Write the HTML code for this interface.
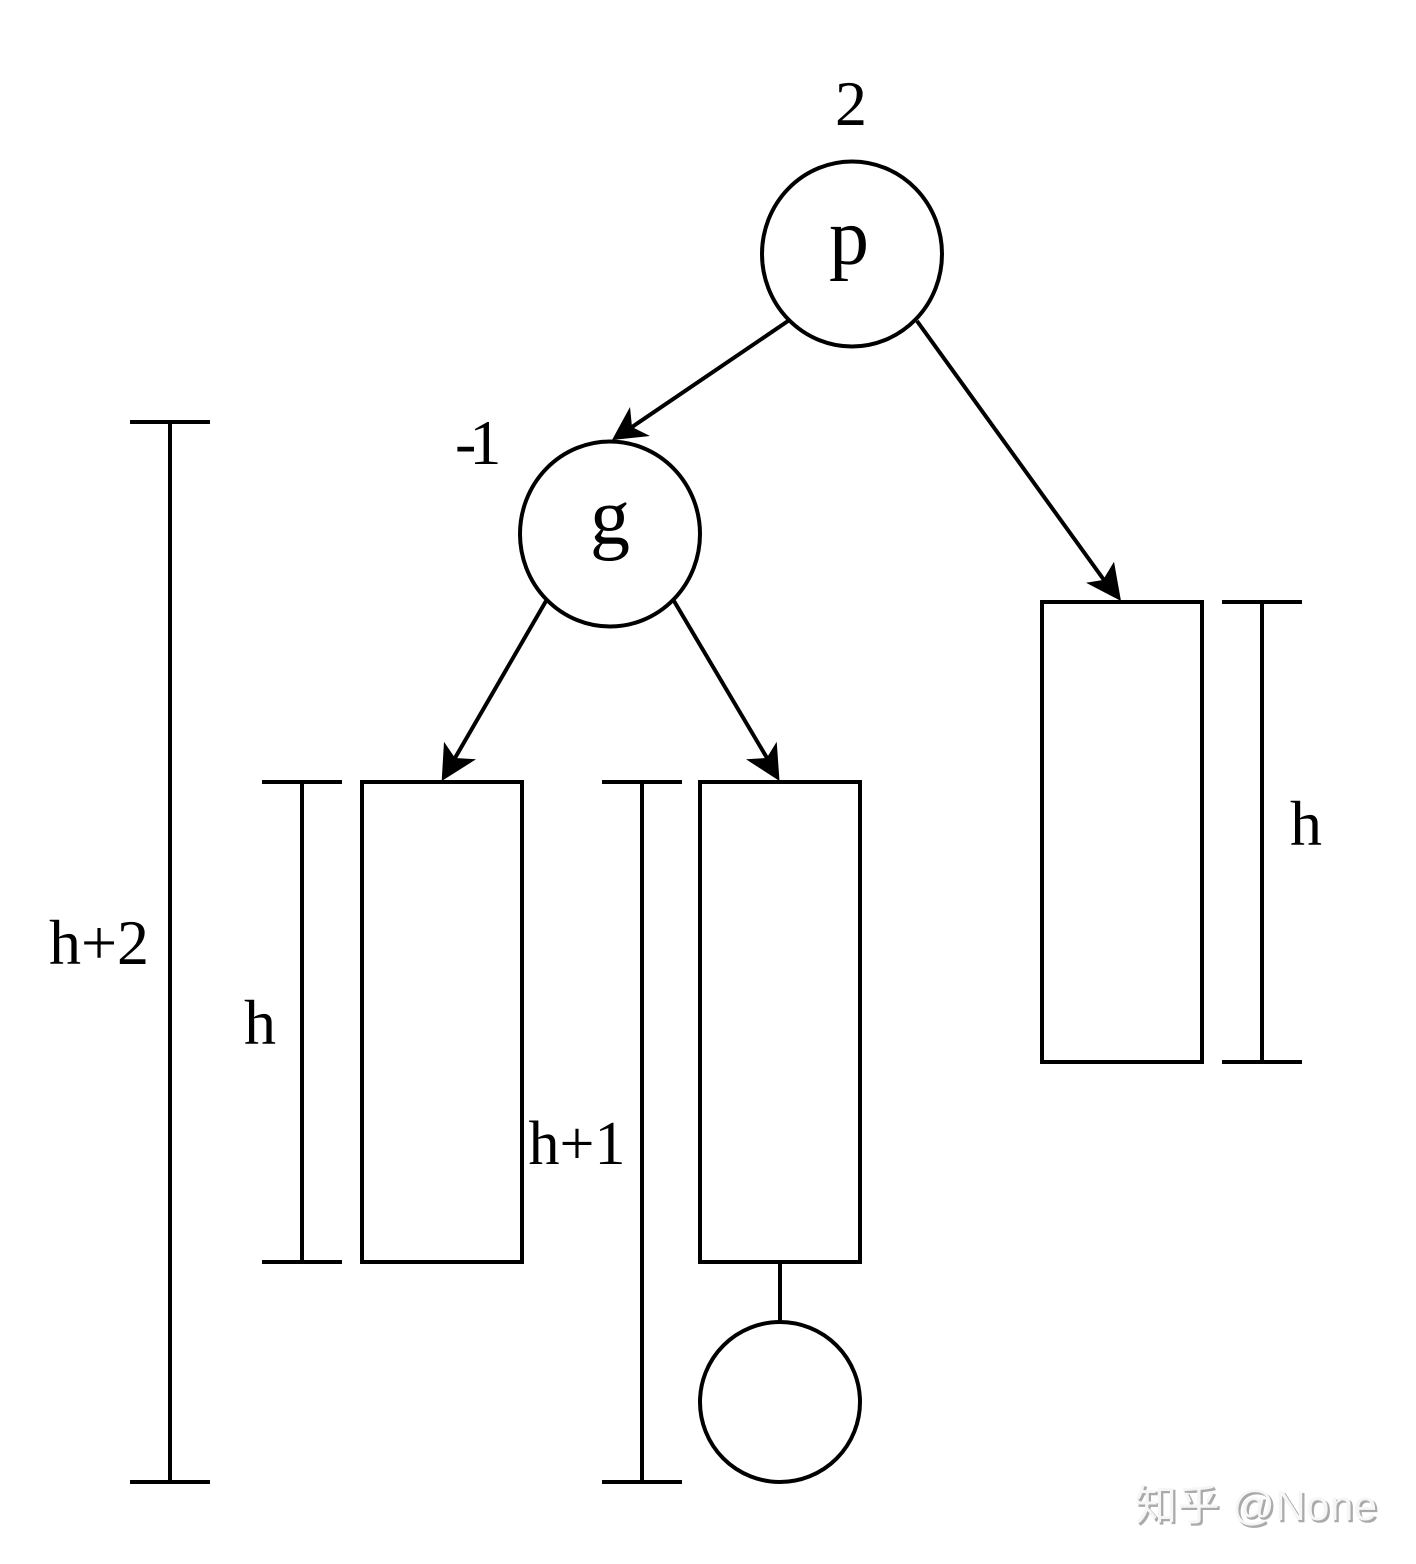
<!DOCTYPE html>
<html><head><meta charset="utf-8"><style>
html,body{margin:0;padding:0;background:#fff}
svg{display:block}
.t{font-family:"Liberation Serif",serif;font-size:64px;fill:#000;text-anchor:middle}
.w{font-family:"Liberation Sans","Noto Sans CJK SC",sans-serif;font-size:42px}
</style></head><body>
<svg width="1416" height="1564" viewBox="0 0 1416 1564" xmlns="http://www.w3.org/2000/svg">
<rect width="1416" height="1564" fill="#fff"/>
<g fill="none" stroke="#000" stroke-width="4">
<ellipse cx="852" cy="254" rx="90" ry="92.5"/>
<ellipse cx="610" cy="534" rx="90" ry="92.5"/>
<circle cx="780" cy="1402" r="80"/>
<rect x="362" y="782" width="160" height="480"/>
<rect x="700" y="782" width="160" height="480"/>
<rect x="1042" y="602" width="160" height="460"/>
<path d="M780 1262V1322"/>
<path d="M130 422H210M170 422V1482M130 1482H210"/>
<path d="M262 782H342M302 782V1262M262 1262H342"/>
<path d="M602 782H682M642 782V1482M602 1482H682"/>
<path d="M1222 602H1302M1262 602V1062M1222 1062H1302"/>
<path d="M788 321L632 427M917 321L1104 580M546 601L455 758M674 601L767 758"/>
</g>
<g fill="#000">
<path d="M612 440L630 407L632 427L650 436Z"/>
<path d="M1121 601L1114 561.7L1103 580L1086 582.7Z"/>
<path d="M441.7 781L476 759.3L455 758L444 741.7Z"/>
<path d="M779.5 781L776.7 741.7L766.7 758L746 759.3Z"/>
</g>
<text class="t" x="851" y="125">2</text>
<text class="t" x="849" y="264" style="font-size:80px">p</text>
<text class="t" x="455" y="464" style="text-anchor:start">-<tspan dx="-7">1</tspan></text>
<text class="t" x="610" y="544" style="font-size:80px">g</text>
<text class="t" x="99" y="964">h+2</text>
<text class="t" x="260" y="1044">h</text>
<text class="t" x="577" y="1164" style="font-size:62px">h+1</text>
<text class="t" x="1306" y="845">h</text>
<text class="w" x="1137" y="1522" fill="#aaa" stroke="#aaa" stroke-width="0.6" textLength="242">知乎 @None</text>
<text class="w" x="1135" y="1520" fill="#f6f6f6" textLength="242">知乎 @None</text>
</svg>
</body></html>
